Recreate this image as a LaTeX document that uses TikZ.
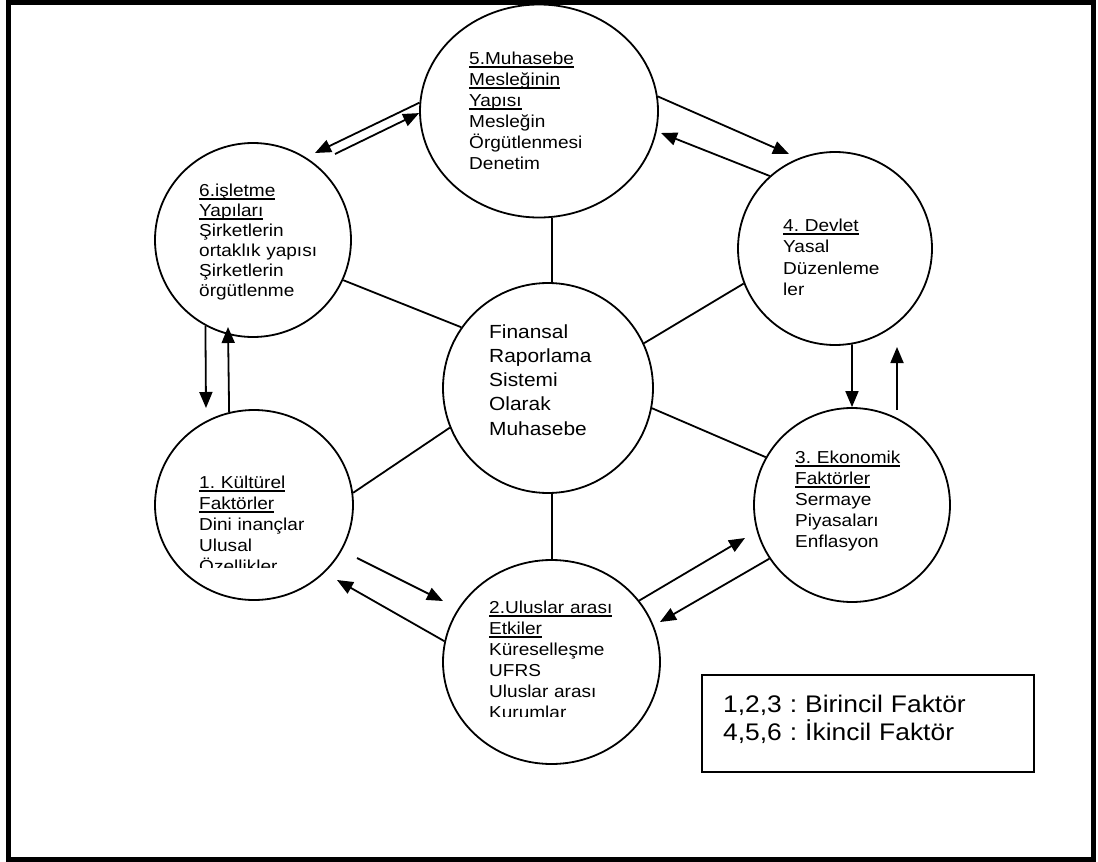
\documentclass[tikz,border=0pt]{standalone}
\usepackage{fontspec}
\setmainfont{Liberation Sans}[FakeStretch=1.1]
\usetikzlibrary{shapes.geometric,arrows.meta,calc}
\frenchspacing
\newsavebox\ulbox
\newcommand\myul[1]{\leavevmode\sbox\ulbox{#1}\rlap{\rule[-3.5pt]{\wd\ulbox}{1.4pt}}\usebox\ulbox}
\begin{document}
\begin{tikzpicture}[x=1pt,y=-1pt,
  ell/.style={ellipse, draw, line width=1.8pt, inner sep=0pt},
  arr/.style={line width=1.8pt, -{Triangle[length=16pt,width=13pt]}},
  link/.style={line width=1.8pt},
  txt/.style={anchor=base west, inner sep=0pt, align=left, text width=220pt, font=\fontsize{17.3}{21}\selectfont},
]
\useasboundingbox (0,0) rectangle (1098,862);
\draw[line width=5pt] (8,2.5) rectangle (1093,859.5);

% circles
\node[ell, minimum width=238pt, minimum height=213pt] (n5) at (539,111) {};
\node[ell, minimum width=196pt, minimum height=194pt] (n6) at (253,240) {};
\node[ell, minimum width=198pt, minimum height=190pt] (n1) at (254,505) {};
\node[ell, minimum width=217pt, minimum height=204pt] (n2) at (551.5,662) {};
\node[ell, minimum width=210pt, minimum height=210pt] (nc) at (548,388) {};
\node[ell, minimum width=194pt, minimum height=193pt] (n4) at (835,248.5) {};
\node[ell, minimum width=196pt, minimum height=194pt] (n3) at (852,505) {};

% texts
\node[txt] (t5) at (469,64) {\myul{5.Muhasebe}\\\myul{Mesleğinin}\\\myul{Yapısı}\\Mesleğin\\Örgütlenmesi\\Denetim};
\node[txt, font=\fontsize{17.3}{20}\selectfont] (t6) at (199,196) {\myul{6.işletme}\\\myul{Yapıları}\\Şirketlerin\\ortaklık yapısı\\Şirketlerin\\örgütlenme};
\begin{scope}
\clip (0,0) rectangle (1098,567);
\node[txt] (t1) at (199,488) {\myul{1. Kültürel}\\\myul{Faktörler}\\Dini inançlar\\Ulusal\\Özellikler};
\end{scope}
\begin{scope}
\clip (0,0) rectangle (1098,716.5);
\node[txt] (t2) at (489,613) {\myul{2.Uluslar arası}\\\myul{Etkiler}\\Küreselleşme\\UFRS\\Uluslar arası\\Kurumlar};
\end{scope}
\node[txt, font=\fontsize{17.3}{21.5}\selectfont] (t4) at (783,231) {\myul{4. Devlet}\\Yasal\\Düzenleme\\ler};
\node[txt] (t3) at (795,463) {\myul{3. Ekonomik}\\\myul{Faktörler}\\Sermaye\\Piyasaları\\Enflasyon};
\node[txt, font=\fontsize{19}{24.3}\selectfont] (tc) at (489,338) {Finansal\\Raporlama\\Sistemi\\Olarak\\Muhasebe};

% legend
\node[draw, line width=1.8pt, minimum width=332pt, minimum height=97pt, inner sep=0pt] (legbox) at (868,723.5) {};
\node[txt, font=\fontsize{24}{28}\selectfont, text width=300pt] (legtxt) at (723,712) {1,2,3 : Birincil Faktör\\4,5,6 : İkincil Faktör};

% radial links
\draw[link] (nc.88) -- (nc.88 |- n5.south);
\draw[link] (nc.-88) -- (nc.-88 |- n2.north);
\draw[link] (nc.145) -- (n6.-24);
\draw[link] (nc.25) -- (n4.201);
\draw[link] (nc.-11) -- (n3.151);
\draw[link] (nc.202) -- (n1.7);

% arrows
\draw[arr] (n5.176) -- ($(n6.center)+(62,-87)$);
\draw[arr] ($(n6.center)+(82,-86)$) -- (n5.181);
\draw[arr] (n5.7) -- ($(n4.center)+(-46,-94.5)$);
\draw[arr] (n4.132) -- ($(n5.center)+(122,22)$);
\draw[arr] (n4.-80) -- (n3.north);
\draw[arr] ($(n3.center)+(45,-95)$) -- ($(n4.center)+(62,98.5)$);
\draw[arr] (n6.-119) -- ($(n1.center)+(-48,-97)$);
\draw[arr] (n1.105) -- ($(n6.center)+(-25,87)$);
\draw[arr] ($(n1.center)+(103,53)$) -- ($(n2.center)+(-108.5,-61)$);
\draw[arr] (n2.169) -- ($(n1.center)+(83,75)$);
\draw[arr] (n2.35) -- ($(n3.center)+(-107,33)$);
\draw[arr] (n3.213) -- ($(n2.center)+(108.5,-40)$);
\end{tikzpicture}
\end{document}
